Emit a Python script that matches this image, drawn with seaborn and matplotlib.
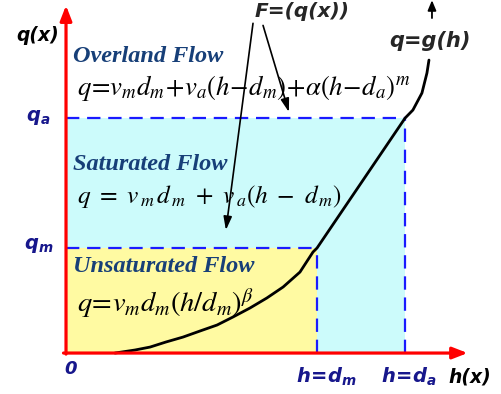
import matplotlib
matplotlib.use("Agg")
import matplotlib.pyplot as plt
import seaborn as sns
import pandas as pd

# thresholds (h in units of d_m, q in units of q_m)
d_m = 1.0
d_a = 1.35
q_m = 1.0
q_a = 2.24

# rating curve q = g(h)
h_curve = [0.195, 0.275, 0.335, 0.398, 0.466, 0.534, 0.602, 0.665, 0.733, 0.80,
           0.865, 0.932, 0.984, 1.0, 1.351, 1.382, 1.418, 1.438, 1.446]
q_curve = [0.0, 0.029, 0.057, 0.105, 0.152, 0.21, 0.267, 0.343, 0.429, 0.524,
           0.629, 0.771, 0.962, 1.0, 2.238, 2.314, 2.476, 2.667, 2.79]

zone_titles = ["Overland Flow", "Saturated Flow", "Unsaturated Flow"]
zone_formulas = [
    r"$q\!=\!v_m d_m\!+\!v_a(h\!-\!d_m)\!+\!\alpha\left(h\!-\!d_a\right)^m$",
    r"$q\ =\ v_{\,m}\,d_{\,m}\ +\ v_{\,a}(h\ -\ d_{\,m})$",
    r"$q\!=\!v_m d_m\left(h/d_m\right)^{\beta}$",
]

sns.set_style("white")
plt.rcParams["mathtext.fontset"] = "stix"

fig = plt.figure(figsize=(5.01, 3.94), dpi=100)
ax = fig.add_axes([0, 0, 1, 1])
ax.set_xlim(-0.263, 1.733)
ax.set_ylim(-0.39, 3.362)
ax.axis("off")

cyan = "#ccfbfb"
yellow = "#fffaa2"
navy = "#17178c"
title_blue = "#173f78"

# zones
ax.fill_between([0, d_a], 0, q_a, color=cyan, lw=0)
ax.fill_between([0, d_m], 0, q_m, color=yellow, lw=0)

dash = dict(color="#1a1aff", lw=1.6, dashes=(6, 3.5))
ax.plot([0, d_a], [q_a, q_a], **dash)
ax.plot([d_a, d_a], [0, q_a], **dash)
ax.plot([0, d_m], [q_m, q_m], **dash)
ax.plot([d_m, d_m], [0, q_m], **dash)

# curve
df = pd.DataFrame({"h": h_curve, "q": q_curve})
sns.lineplot(data=df, x="h", y="q", ax=ax, color="black", lw=2.0, sort=False,
             solid_joinstyle="round", solid_capstyle="round")

# axes arrows
red = dict(arrowstyle="-|>,head_length=0.9,head_width=0.35", color="red", lw=2.3,
           shrinkA=0, shrinkB=0)
ax.annotate("", xy=(0, 3.31), xytext=(0, -0.01), arrowprops=red)
ax.annotate("", xy=(1.60, 0), xytext=(-0.01, 0), arrowprops=red)

# axis labels
bi = dict(fontfamily="DejaVu Sans", fontweight="bold", fontstyle="italic")
ax.text(-0.112, 3.02, "q(x)", fontsize=13.5, ha="center", va="center", color="black", **bi)
ax.text(1.61, -0.229, "h(x)", fontsize=13.5, ha="center", va="center", color="black", **bi)
ax.text(0.02, -0.152, "0", fontsize=13, ha="center", va="center", color=navy, **bi)

mb = dict(math_fontfamily="dejavusans", color=navy, ha="center", va="center", fontsize=14)
ax.text(-0.112, q_a, r"$\mathbfit{q}_\mathbfit{a}$", **mb)
ax.text(-0.108, q_m + 0.02, r"$\mathbfit{q}_\mathbfit{m}$", **mb)
ax.text(1.036, -0.229, r"$\mathbfit{h\!=\!d}_\mathbfit{m}$", **mb)
ax.text(1.367, -0.229, r"$\mathbfit{h\!=\!d}_\mathbfit{a}$", **mb)

ax.text(0.753, 3.25, "F=(q(x))", fontsize=14.5, ha="left", va="center", **bi)
ax.text(1.45, 2.97, "q=g(h)", fontsize=15, ha="center", va="center", **bi)
ax.annotate("", xy=(1.458, 3.36), xytext=(1.458, 3.19),
            arrowprops=dict(arrowstyle="-|>,head_length=0.6,head_width=0.25",
                            color="black", lw=1.3, shrinkA=0, shrinkB=0))

# F arrows
thin = dict(arrowstyle="-|>,head_length=0.8,head_width=0.25", color="black",
            lw=1.2, shrinkA=0, shrinkB=0)
ax.annotate("", xy=(0.637, 1.171), xytext=(0.745, 3.14), arrowprops=thin)
ax.annotate("", xy=(0.888, 2.295), xytext=(0.785, 3.12), arrowprops=thin)

# zone labels
title_y = [2.82, 1.80, 0.82]
formula_y = [2.52, 1.495, 0.467]
formula_size = [19.3, 18.3, 20.5]
for t, f, ty, fy, fs in zip(zone_titles, zone_formulas, title_y, formula_y, formula_size):
    ax.text(0.028, ty, t, fontsize=17.5, fontfamily="Liberation Serif", fontweight="bold",
            fontstyle="italic", color=title_blue, ha="left", va="center")
    ax.text(0.044, fy, f, fontsize=fs, color="black", ha="left", va="center")

fig.savefig("out.png", dpi=100)
